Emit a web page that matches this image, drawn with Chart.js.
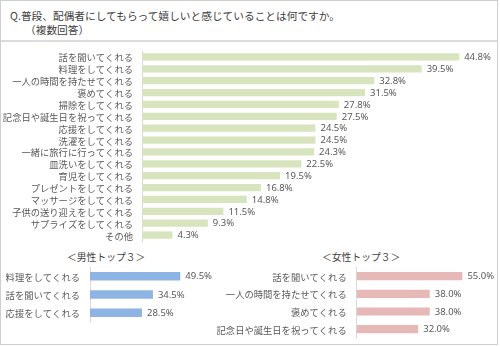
<!DOCTYPE html>
<html><head><meta charset="utf-8">
<script src="https://cdn.jsdelivr.net/npm/chart.js@4/dist/chart.umd.min.js"></script>
<style>
html,body{margin:0;padding:0;background:#fff;}
#wrap{position:relative;width:500px;height:346px;overflow:hidden;font-family:"Noto Sans CJK JP","Noto Sans",sans-serif;}
#frame{position:absolute;left:0;top:0;width:496px;height:343px;border:1px solid #cfcfcf;}
#sep{position:absolute;left:1px;top:40px;width:496px;height:2px;background:#dcdcdc;}
.t{position:absolute;color:#404040;white-space:nowrap;}
canvas{position:absolute;}
</style></head>
<body><div id="wrap">
<div id="frame"></div>
<div id="sep"></div>
<div class="t" style="left:10px;top:8px;font-size:10.7px;">Q.普段、配偶者にしてもらって嬉しいと感じていることは何ですか。</div>
<div class="t" style="left:25px;top:22px;font-size:10.7px;">（複数回答）</div>
<div class="t" style="left:67px;top:250px;font-size:9.8px;color:#404040;">＜男性トップ３＞</div>
<div class="t" style="left:322px;top:250px;font-size:9.8px;color:#404040;">＜女性トップ３＞</div>
<canvas id="c1" width="500" height="200" style="left:0;top:45px;width:500px;height:200px;"></canvas>
<canvas id="c2" width="250" height="70" style="left:0;top:262px;width:250px;height:70px;"></canvas>
<canvas id="c3" width="300" height="84" style="left:200px;top:262px;width:300px;height:84px;"></canvas>
</div>
<script>
const allCategories = ["話を聞いてくれる","料理をしてくれる","一人の時間を持たせてくれる","褒めてくれる","掃除をしてくれる","記念日や誕生日を祝ってくれる","応援をしてくれる","洗濯をしてくれる","一緒に旅行に行ってくれる","皿洗いをしてくれる","育児をしてくれる","プレゼントをしてくれる","マッサージをしてくれる","子供の送り迎えをしてくれる","サプライズをしてくれる","その他"];
const allValues = [44.8,39.5,32.8,31.5,27.8,27.5,24.5,24.5,24.3,22.5,19.5,16.8,14.8,11.5,9.3,4.3];
const maleCategories = ["料理をしてくれる","話を聞いてくれる","応援をしてくれる"];
const maleValues = [49.5,34.5,28.5];
const femaleCategories = ["話を聞いてくれる","一人の時間を持たせてくれる","褒めてくれる","記念日や誕生日を祝ってくれる"];
const femaleValues = [55.0,38.0,38.0,32.0];

const labelFont = '"Noto Sans CJK JP","Noto Sans",sans-serif';
const valuePlugin = {
  id:'valueLabels',
  afterDatasetsDraw(chart){
    const ctx = chart.ctx;
    const meta = chart.getDatasetMeta(0);
    const data = chart.data.datasets[0].data;
    ctx.save();
    ctx.font = '9.5px "Noto Sans", sans-serif';
    ctx.fillStyle = '#595959';
    ctx.textAlign = 'left';
    ctx.textBaseline = 'middle';
    meta.data.forEach((bar,i)=>{
      ctx.fillText(data[i].toFixed(1)+'%', bar.x + 5, bar.y + 0.5);
    });
    ctx.restore();
  }
};

function makeChart(id, cats, vals, color, opts){
  return new Chart(document.getElementById(id), {
    type:'bar',
    data:{labels:cats, datasets:[{data:vals, backgroundColor:color, borderWidth:0, categoryPercentage:1, barPercentage:opts.bar}]},
    options:{
      indexAxis:'y', responsive:false, animation:false,
      layout:{padding:opts.pad},
      plugins:{legend:{display:false}, tooltip:{enabled:false}},
      scales:{
        x:{display:false, min:0, max:opts.max},
        y:{
          afterFit(s){ s.width = opts.yw; s.paddingTop = 0; s.paddingBottom = 0; },
          grid:{drawOnChartArea:false, drawTicks:false},
          border:{display:true, color:'#d9d9d9', width:1},
          ticks:{color:'#595959', font:{family:labelFont, size:opts.fs}, padding:opts.tp, autoSkip:false, labelOffset:1}
        }
      }
    },
    plugins:[valuePlugin]
  });
}

makeChart('c1', allCategories, allValues, '#d7e4bd', {bar:0.62, max:50, yw:142, pad:{top:6,bottom:4,left:0,right:4}, fs:9.3, tp:9});
makeChart('c2', maleCategories, maleValues, '#8db4e2', {bar:0.46, max:60, yw:90, pad:{top:5,bottom:10,left:0,right:50.6}, fs:9.3, tp:10});
makeChart('c3', femaleCategories, femaleValues, '#e6b9b8', {bar:0.46, max:60, yw:156.7, pad:{top:5.3,bottom:8,left:0,right:28}, fs:9.3, tp:10});
</script>
</body></html>
